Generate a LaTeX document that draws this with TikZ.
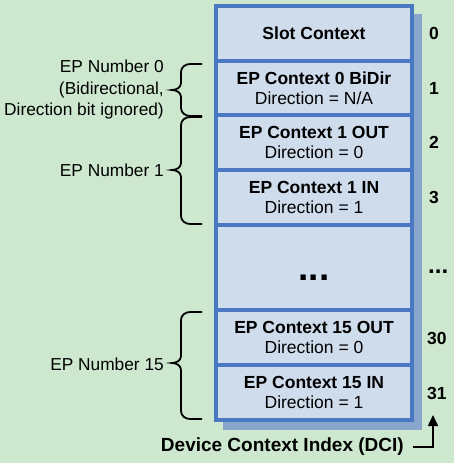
\documentclass[tikz,border=0pt]{standalone}
\usepackage{fontspec}
\setmainfont{Liberation Sans}
\usetikzlibrary{arrows.meta}
\definecolor{bggreen}{HTML}{CDE8CF}
\definecolor{boxfill}{HTML}{CFDCEC}
\definecolor{boxline}{HTML}{4A78C2}
\definecolor{shadowc}{HTML}{88A6CA}
\tikzset{
  rowbox/.style={draw=boxline, fill=boxfill, line width=4pt, minimum width=196pt, inner sep=0pt,
    align=center, font=\fontsize{17.5}{20}\selectfont},
  idx/.style={anchor=west, inner sep=0pt, font=\fontsize{17.5}{20}\selectfont\bfseries},
  lbl/.style={anchor=east, inner sep=0pt, align=right, font=\fontsize{17.3}{21.5}\selectfont},
  bracel/.style={line width=1.8pt, black},
}
\newcommand{\mybrace}[3]{%
  \draw[bracel] (202,#1) -- (190,#1) to[out=180,in=90] (181,#1+8) -- (181,#3-7)
    to[out=-90,in=0] (172,#3) to[out=0,in=90] (181,#3+7) -- (181,#2-8)
    to[out=-90,in=180] (190,#2) -- (202,#2);}
\begin{document}
\begin{tikzpicture}[x=1pt,y=-1pt]
\fill[bggreen] (0,0) rectangle (454,463);
\useasboundingbox (0,0) rectangle (454,463);
% shadow
\fill[shadowc] (223,14) rectangle (422,430);
% rows
\node[rowbox, minimum height=55pt] (r0) at (314,33.5) {\textbf{Slot Context}};
\node[rowbox, minimum height=54pt] (r1) at (314,88) {\textbf{EP Context 0 BiDir}\\Direction = N/A};
\node[rowbox, minimum height=55pt] (r2) at (314,142.5) {\textbf{EP Context 1 OUT}\\Direction = 0};
\node[rowbox, minimum height=55pt] (r3) at (314,197.5) {\textbf{EP Context 1 IN}\\Direction = 1};
\node[rowbox, minimum height=85pt] (r4) at (314,267.5) {};
\node[inner sep=0pt, font=\fontsize{37}{37}\selectfont\bfseries] (dots) at (314,278) {...};
\node[rowbox, minimum height=55pt] (r5) at (314,337.5) {\textbf{EP Context 15 OUT}\\Direction = 0};
\node[rowbox, minimum height=55pt] (r6) at (314,392.5) {\textbf{EP Context 15 IN}\\Direction = 1};
% indices
\node[idx] (i0) at (429,33.5) {0};
\node[idx] (i1) at (429,88) {1};
\node[idx] (i2) at (429,142.5) {2};
\node[idx] (i3) at (429,197.5) {3};
\node[idx, font=\fontsize{24}{24}\selectfont\bfseries] (i4) at (428,272) {...};
\node[idx] (i5) at (427,338) {30};
\node[idx] (i6) at (427,393) {31};
% braces
\mybrace{64}{116}{90}
\mybrace{117}{224}{170}
\mybrace{312}{419}{363}
% labels
\node[lbl] (l0) at (164,90) {EP Number 0\\(Bidirectional,\\Direction bit ignored)};
\node[lbl] (l1) at (164,170) {EP Number 1};
\node[lbl] (l15) at (164,364) {EP Number 15};
% DCI
\node[anchor=east, inner sep=0pt, font=\fontsize{19}{20}\selectfont\bfseries] (dci) at (404,447) {Device Context Index (DCI)};
\coordinate (tip) at (433,415);
\draw[line width=1.6pt, -{Triangle[length=11pt,width=10pt]}] ([xshift=9pt]dci.east) -| (tip);
\end{tikzpicture}
\end{document}
